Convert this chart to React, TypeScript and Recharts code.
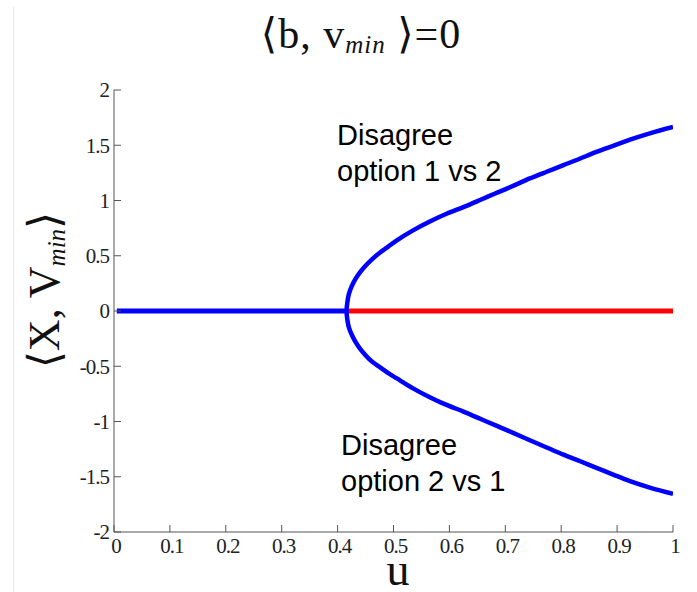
import React from "react";
import { LineChart, Line, XAxis, YAxis, Customized } from "recharts";

// ---- data ----
const xTicks = [0, 0.1, 0.2, 0.3, 0.4, 0.5, 0.6, 0.7, 0.8, 0.9, 1];
const yTicks = [-2, -1.5, -1, -0.5, 0, 0.5, 1, 1.5, 2];

// stable consensus branch (blue) before the bifurcation
const consensusU = [0.005, 0.416];
const consensusY = [0, 0];

// unstable consensus branch (red) after the bifurcation
const unstableU = [0.416, 1];
const unstableY = [0, 0];

// disagreement branches (upper: option 1 vs 2, lower: option 2 vs 1)
const upperU = [1.0, 0.96, 0.923, 0.893, 0.863, 0.834, 0.804, 0.774, 0.744, 0.715, 0.685, 0.655, 0.625, 0.595, 0.565, 0.535, 0.506, 0.49, 0.476, 0.462, 0.45, 0.44, 0.432, 0.425, 0.42, 0.4175];
const upperY = [1.665, 1.61, 1.55, 1.495, 1.44, 1.38, 1.32, 1.26, 1.2, 1.135, 1.07, 1.005, 0.94, 0.88, 0.81, 0.73, 0.64, 0.58, 0.53, 0.47, 0.41, 0.35, 0.29, 0.22, 0.15, 0.08];
const vertexU = 0.416;
const vertexY = 0;
const lowerU = [0.4175, 0.42, 0.425, 0.432, 0.44, 0.45, 0.462, 0.476, 0.49, 0.506, 0.535, 0.565, 0.595, 0.625, 0.655, 0.685, 0.715, 0.744, 0.774, 0.804, 0.834, 0.863, 0.893, 0.923, 0.96, 1.0];
const lowerY = [-0.08, -0.145, -0.21, -0.28, -0.34, -0.4, -0.46, -0.51, -0.56, -0.61, -0.7, -0.78, -0.85, -0.91, -0.975, -1.04, -1.105, -1.17, -1.235, -1.3, -1.36, -1.42, -1.48, -1.54, -1.6, -1.655];

const toRows = (us: number[], ys: number[]) => us.map((u, i) => ({ u, y: ys[i] }));
const consensusData = toRows(consensusU, consensusY);
const unstableData = toRows(unstableU, unstableY);
const branchData = [
  ...toRows(upperU, upperY),
  { u: vertexU, y: vertexY },
  ...toRows(lowerU, lowerY),
];

const AXIS = "#555";
const SERIF = "'Liberation Serif', 'DejaVu Serif', serif";
const SANS = "'Liberation Sans', Arial, sans-serif";

const tickStyle = {
  fontFamily: SERIF,
  fontSize: 21,
  fill: "#222",
  letterSpacing: -1,
};

const Decorations = () => (
  <g>
    {/* title */}
    <text x={361} y={48} textAnchor="middle" style={{ fontFamily: SERIF, fontSize: 42, letterSpacing: 1 }} fill="#111">
      <tspan>⟨b, v</tspan>
      <tspan style={{ fontSize: 25, fontStyle: "italic" }} dy={5}>min</tspan>
      <tspan dy={-5}>{"  ⟩=0"}</tspan>
    </text>
    {/* y axis label */}
    <text
      x={59}
      y={290}
      transform="rotate(-90 59 290)"
      textAnchor="middle"
      style={{ fontFamily: SERIF, fontSize: 44 }}
      fill="#111"
    >
      <tspan>⟨X, V</tspan>
      <tspan style={{ fontSize: 25, fontStyle: "italic" }} dy={6}>min</tspan>
      <tspan dy={-6}>⟩</tspan>
    </text>
    {/* x axis label */}
    <text x={398} y={585} textAnchor="middle" style={{ fontFamily: SERIF, fontSize: 46 }} fill="#111">
      u
    </text>
    {/* annotations */}
    <text style={{ fontFamily: SANS, fontSize: 29 }} fill="#000">
      <tspan x={337} y={145}>Disagree</tspan>
      <tspan x={337} y={181}>option 1 vs 2</tspan>
    </text>
    <text style={{ fontFamily: SANS, fontSize: 29 }} fill="#000">
      <tspan x={341} y={455}>Disagree</tspan>
      <tspan x={341} y={491}>option 2 vs 1</tspan>
    </text>
  </g>
);

export default function App() {
  return (
    <div style={{ position: "absolute", left: 0, top: 0, width: 697, height: 592, background: "#fff" }}>
      <div
        style={{
          position: "absolute",
          left: 13,
          top: 7,
          width: 1,
          height: 585,
          background: "#e8e8e8",
        }}
      />
      <LineChart
        width={697}
        height={592}
        margin={{ top: 90, right: 24, bottom: 0, left: 0 }}
      >
        <XAxis
          dataKey="u"
          type="number"
          domain={[0, 1]}
          ticks={xTicks}
          interval={0}
          height={60}
          tickSize={-7}
          tickMargin={13}
          tickLine={{ stroke: AXIS, strokeWidth: 1 }}
          axisLine={{ stroke: AXIS, strokeWidth: 1 }}
          tick={tickStyle}
          dx={2}
          allowDataOverflow
        />
        <XAxis
          xAxisId="top"
          orientation="top"
          type="number"
          domain={[0, 1]}
          height={0}
          tick={false}
          tickLine={false}
          axisLine={{ stroke: AXIS, strokeWidth: 1 }}
        />
        <YAxis
          type="number"
          domain={[-2, 2]}
          ticks={yTicks}
          interval={0}
          width={114}
          tickSize={-7}
          tickMargin={12}
          tickLine={{ stroke: AXIS, strokeWidth: 1 }}
          axisLine={{ stroke: AXIS, strokeWidth: 1 }}
          tick={tickStyle}
          allowDataOverflow
        />
        <YAxis
          yAxisId="right"
          orientation="right"
          type="number"
          domain={[-2, 2]}
          width={0}
          tick={false}
          tickLine={false}
          axisLine={{ stroke: AXIS, strokeWidth: 1 }}
        />
        <Line
          data={unstableData}
          dataKey="y"
          type="linear"
          stroke="#ff0000"
          strokeWidth={5}
          dot={false}
          isAnimationActive={false}
        />
        <Line
          data={consensusData}
          dataKey="y"
          type="linear"
          stroke="#0000ff"
          strokeWidth={5}
          dot={false}
          isAnimationActive={false}
        />
        <Line
          data={branchData}
          dataKey="y"
          type="natural"
          stroke="#0000ff"
          strokeWidth={4.5}
          dot={false}
          isAnimationActive={false}
        />
        <Customized component={Decorations} />
      </LineChart>
    </div>
  );
}
